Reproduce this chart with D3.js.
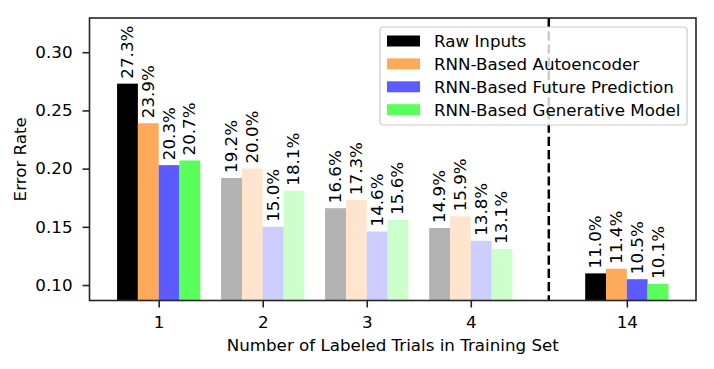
<!DOCTYPE html>
<html>
<head>
<meta charset="utf-8">
<script src="https://cdn.jsdelivr.net/npm/d3@7"></script>
<style>
  body { margin: 0; background: white; }
  text { font-family: "DejaVu Sans", sans-serif; }
</style>
</head>
<body>
<div id="viz"></div>
<script>

const width = 714
const height = 369

// data
const groupLabels = ["1", "2", "3", "4", "14"]
const groupPositions = [1, 2, 3, 4, 5.5]
const seriesNames = ["Raw Inputs", "RNN-Based Autoencoder", "RNN-Based Future Prediction", "RNN-Based Generative Model"]
const rawInputs = [0.273, 0.192, 0.166, 0.149, 0.110]
const autoencoder = [0.239, 0.200, 0.173, 0.159, 0.114]
const futurePrediction = [0.203, 0.150, 0.146, 0.138, 0.105]
const generativeModel = [0.207, 0.181, 0.156, 0.131, 0.101]
const fadedGroups = ["2", "3", "4"]
const yTicks = [0.10, 0.15, 0.20, 0.25, 0.30]
const dividerAt = 4.75

const seriesValues = [rawInputs, autoencoder, futurePrediction, generativeModel]
const seriesColors = ["#000000", "#ffaa5a", "#5b5bff", "#5bff5b"]

const fontSize = 16.7
const frameColor = "#262626"

const margin = {left: 89.5, right: 18, top: 18, bottom: 68.5}
const plotW = width - margin.left - margin.right
const plotH = height - margin.top - margin.bottom

const xScale = d3.scaleLinear().domain([0.335, 6.165]).range([0, plotW])
const yScale = d3.scaleLinear().domain([0.0867, 0.3294]).range([plotH, 0])
const barW = xScale(1.2) - xScale(1)

const svg = d3.select("#viz").append("svg").attr("width", width).attr("height", height)
const plot = svg.append("g").attr("transform", `translate(${margin.left}, ${margin.top})`)

// bars
const bars = []
seriesValues.forEach((vals, s) => {
    vals.forEach((v, g) => {
        bars.push({s: s, g: g, v: v, x: groupPositions[g] + (s - 1.5) * 0.2})
    })
})

const barGroup = plot.append("g").attr("id", "bars")
barGroup.selectAll("rect").data(bars).enter().append("rect")
    .attr("x", d => xScale(d.x) - barW / 2)
    .attr("width", barW)
    .attr("y", d => yScale(d.v))
    .attr("height", d => plotH - yScale(d.v))
    .attr("fill", d => seriesColors[d.s])
    .attr("fill-opacity", d => fadedGroups.includes(groupLabels[d.g]) ? 0.3 : 1)

// value labels
barGroup.selectAll("text").data(bars).enter().append("text")
    .attr("transform", d => `translate(${xScale(d.x)}, ${yScale(d.v) - 5}) rotate(-90)`)
    .attr("dy", "0.33em")
    .attr("font-size", fontSize)
    .attr("fill", "black")
    .text(d => (d.v * 100).toFixed(1) + "%")

// dashed divider
plot.append("line")
    .attr("x1", xScale(dividerAt)).attr("x2", xScale(dividerAt))
    .attr("y1", 0).attr("y2", plotH)
    .attr("stroke", "black").attr("stroke-width", 2.5)
    .attr("stroke-dasharray", "9.2,4")

// axes
const xAxis = d3.axisBottom(xScale).tickValues(groupPositions).tickFormat((d, i) => groupLabels[i]).tickSize(7).tickPadding(8.5)
const yAxis = d3.axisLeft(yScale).tickValues(yTicks).tickFormat(d3.format(".2f")).tickSize(7).tickPadding(10)

const xAxisGroup = plot.append("g").attr("transform", `translate(0, ${plotH})`).call(xAxis)
const yAxisGroup = plot.append("g").call(yAxis)
;[xAxisGroup, yAxisGroup].forEach(ax => {
    ax.select(".domain").remove()
    ax.selectAll("line").attr("stroke", frameColor).attr("stroke-width", 1.6)
    ax.selectAll("text").attr("font-size", fontSize).attr("fill", "black").attr("font-family", "DejaVu Sans")
})

// frame
plot.append("rect").attr("x", 0).attr("y", 0).attr("width", plotW).attr("height", plotH)
    .attr("fill", "none").attr("stroke", frameColor).attr("stroke-width", 1.6)

// axis titles
svg.append("text").attr("x", margin.left + plotW / 2).attr("y", 350.7)
    .attr("text-anchor", "middle").attr("font-size", fontSize).attr("fill", "black")
    .text("Number of Labeled Trials in Training Set")
svg.append("text").attr("transform", `translate(26, ${margin.top + plotH / 2}) rotate(-90)`)
    .attr("text-anchor", "middle").attr("font-size", fontSize).attr("fill", "black")
    .text("Error Rate")

// legend
const legend = svg.append("g").attr("transform", "translate(380, 27)")
legend.append("rect").attr("x", 0).attr("y", 0).attr("width", 307).attr("height", 98)
    .attr("rx", 3).attr("fill", "white").attr("fill-opacity", 0.8)
    .attr("stroke", "#cccccc").attr("stroke-width", 1.2)
const legendItems = legend.selectAll("g.item").data(seriesNames).enter().append("g").attr("class", "item")
    .attr("transform", (d, i) => `translate(0, ${14 + i * 22.9})`)
legendItems.append("rect").attr("x", 7).attr("y", -5.5).attr("width", 33).attr("height", 11)
    .attr("fill", (d, i) => seriesColors[i])
legendItems.append("text").attr("x", 54).attr("y", 0).attr("dy", "0.35em")
    .attr("font-size", fontSize).attr("fill", "black").text(d => d)

</script>
</body>
</html>
